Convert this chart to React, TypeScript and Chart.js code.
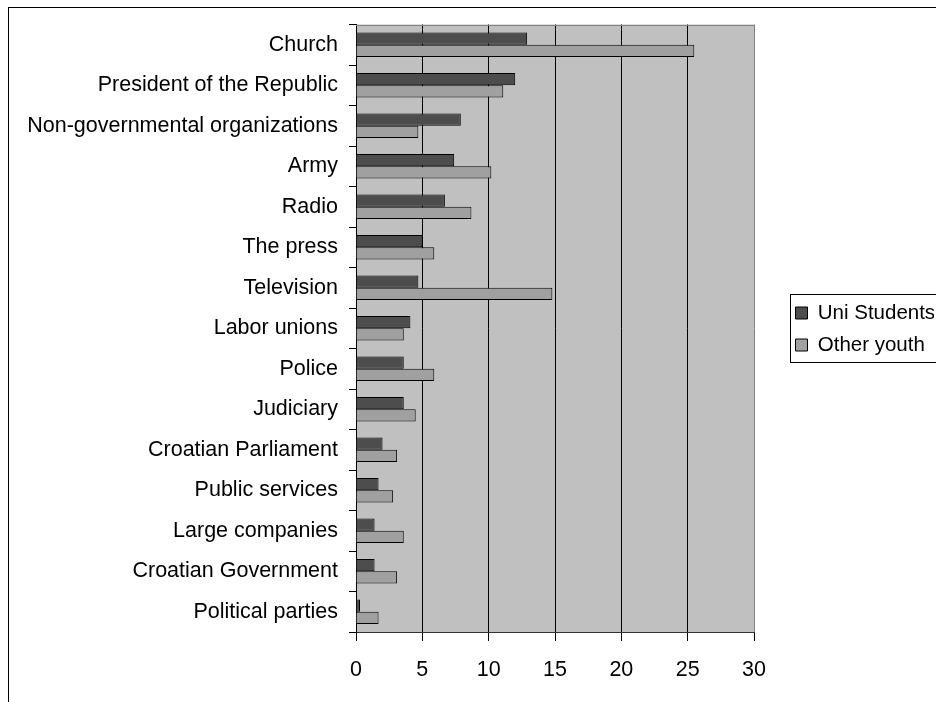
import { useEffect, useRef } from 'react';
import { Chart, registerables } from 'chart.js';

Chart.register(...registerables);

const categories = [
  'Church',
  'President of the Republic',
  'Non-governmental organizations',
  'Army',
  'Radio',
  'The press',
  'Television',
  'Labor unions',
  'Police',
  'Judiciary',
  'Croatian Parliament',
  'Public services',
  'Large companies',
  'Croatian Government',
  'Political parties',
];

const uniStudents = [12.9, 12.0, 7.9, 7.4, 6.7, 5.0, 4.7, 4.1, 3.6, 3.6, 2.0, 1.7, 1.4, 1.4, 0.3];
const otherYouth = [25.5, 11.1, 4.7, 10.2, 8.7, 5.9, 14.8, 3.6, 5.9, 4.5, 3.1, 2.8, 3.6, 3.1, 1.7];

const seriesNames = ['Uni Students', 'Other youth'];
const xMin = 0;
const xMax = 30;
const xStep = 5;

export default function App() {
  const ref = useRef<HTMLCanvasElement>(null);

  useEffect(() => {
    if (!ref.current) return;
    const family = '"Liberation Sans", Arial, Helvetica, sans-serif';
    const font = { family, size: 21.5 };
    const legendFont = { family, size: 20.5 };

    const plotBg = {
      id: 'plotBg',
      beforeDraw(chart: any) {
        const { ctx, chartArea: a } = chart;
        ctx.save();
        ctx.fillStyle = '#C0C0C0';
        ctx.fillRect(a.left, a.top, a.right - a.left, a.bottom - a.top);
        ctx.restore();
      },
      afterDraw(chart: any) {
        const { ctx, chartArea: a } = chart;
        ctx.save();
        ctx.strokeStyle = '#808080';
        ctx.lineWidth = 1;
        ctx.beginPath();
        const y = Math.round(a.top) + 0.5;
        ctx.moveTo(a.left, y);
        ctx.lineTo(a.right, y);
        ctx.stroke();
        ctx.restore();
      },
    };

    const legendPlace = {
      id: 'legendPlace',
      afterLayout(chart: any) {
        const lg = chart.legend;
        const a = chart.chartArea;
        if (!lg) return;
        const mid = (a.top + a.bottom) / 2;
        lg.left = a.right + 30;
        lg.right = lg.left + lg.width;
        lg.top = mid - 120;
        lg.bottom = mid + 121.5;
      },
      afterDraw(chart: any) {
        const lg = chart.legend;
        const a = chart.chartArea;
        if (!lg) return;
        const mid = (a.top + a.bottom) / 2;
        const { ctx } = chart;
        ctx.save();
        ctx.strokeStyle = '#000';
        ctx.lineWidth = 1;
        const x = Math.round(lg.left + 6) + 0.5;
        const y = Math.round(mid - 34) + 0.5;
        ctx.strokeRect(x, y, 400, 68);
        ctx.restore();
      },
    };

    const chart = new Chart(ref.current, {
      type: 'bar',
      data: {
        labels: categories,
        datasets: [
          {
            label: seriesNames[0],
            data: uniStudents,
            backgroundColor: '#4D4D4D',
            borderColor: '#000',
            borderWidth: 1,
            categoryPercentage: 0.6,
            barPercentage: 1,
          },
          {
            label: seriesNames[1],
            data: otherYouth,
            backgroundColor: '#A0A0A0',
            borderColor: '#000',
            borderWidth: 1,
            categoryPercentage: 0.6,
            barPercentage: 1,
          },
        ],
      },
      options: {
        indexAxis: 'y',
        responsive: false,
        animation: false,
        layout: { padding: { top: 16.5, right: 32, left: 0, bottom: 0 } },
        plugins: {
          tooltip: { enabled: false },
          legend: {
            position: 'right',
            maxWidth: 150,
            labels: {
              font: legendFont,
              color: '#000',
              boxWidth: 12,
              boxHeight: 12,
              padding: 11.5,
            },
          },
        },
        scales: {
          x: {
            type: 'linear',
            min: xMin,
            max: xMax,
            ticks: { stepSize: xStep, font, color: '#000', padding: 16.5 },
            grid: {
              color: (c: any) => (c.tick && c.tick.value === xMax ? '#808080' : '#000'),
              tickColor: '#000',
              tickLength: 9,
              lineWidth: 1,
            },
            border: { display: true, color: '#333', width: 1 },
            afterFit(scale: any) {
              scale.height = 70;
              scale.paddingLeft = 0;
              scale.paddingRight = 0;
            },
          },
          y: {
            type: 'category',
            ticks: { font, color: '#000', padding: 11, autoSkip: false },
            grid: {
              offset: true,
              drawOnChartArea: false,
              drawTicks: true,
              tickLength: 7,
              tickColor: '#000',
              color: '#000',
            },
            border: { display: true, color: '#000', width: 1 },
            afterFit(scale: any) {
              scale.width = 347;
              scale.paddingTop = 0;
              scale.paddingBottom = 0;
            },
          },
        },
      },
      plugins: [plotBg, legendPlace],
    } as any);

    return () => chart.destroy();
  }, []);

  return (
    <div
      style={{
        position: 'fixed',
        left: 8,
        top: 7,
        width: 927,
        height: 694,
        borderTop: '1px solid #000',
        borderLeft: '1px solid #000',
        background: '#fff',
      }}
    >
      <canvas ref={ref} width={927} height={694} style={{ display: 'block' }} />
    </div>
  );
}
